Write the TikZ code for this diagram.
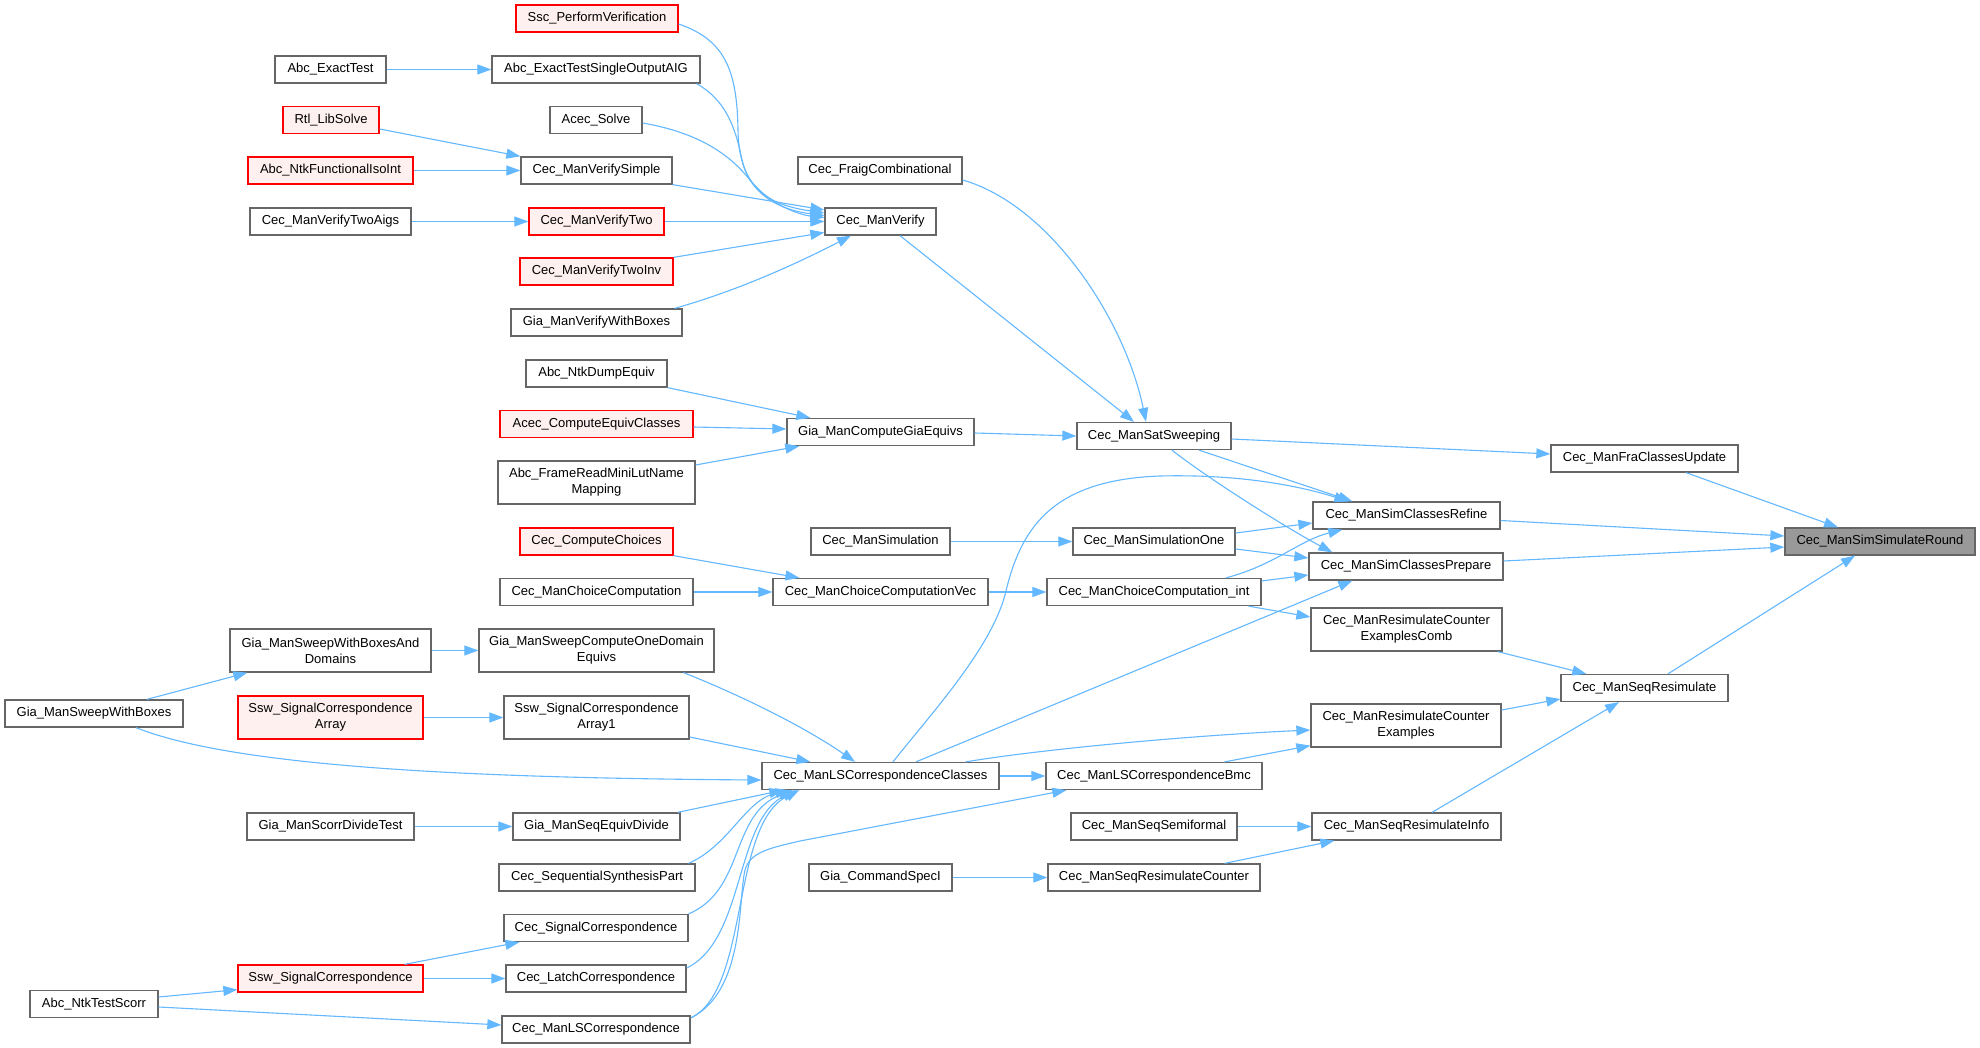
\documentclass[tikz,border=0pt]{standalone}
\usepackage{fontspec}
\setmainfont{Liberation Sans}
\usetikzlibrary{arrows.meta}
\definecolor{edgec}{HTML}{63B8FF}
\definecolor{nborder}{HTML}{666666}
\definecolor{rfill}{HTML}{FFF0F0}
\definecolor{rootfill}{HTML}{999999}
\begin{document}
\begin{tikzpicture}[x=1pt,y=-1pt,
  nd/.style={draw=nborder, line width=1.3pt, fill=white, minimum height=27pt, inner xsep=1pt, inner ysep=0pt, font=\fontsize{13}{16}\selectfont, text=black},
  tw/.style={nd, minimum height=43pt, align=center},
  rd/.style={draw=red, fill=rfill},
  root/.style={fill=rootfill},
  ed/.style={draw=edgec, line width=1.1pt, -{Triangle[length=14pt,width=10pt]}}]
\useasboundingbox[fill=white] (0,0) rectangle (1980,1048);

% column 2 (x=330.5)
\node[nd, minimum width=111pt] (AET) at (330.5,69.5) {Abc\_ExactTest};
\node[nd, rd, minimum width=96pt] (RLS) at (331,120) {Rtl\_LibSolve};
\node[nd, rd, minimum width=165pt] (ANFI) at (330.5,170.5) {Abc\_NtkFunctionalIsoInt};
\node[nd, minimum width=161pt] (CMVTA) at (330.5,221.5) {Cec\_ManVerifyTwoAigs};
\node[tw, minimum width=201pt] (GMSWBAD) at (330.5,650.5) {Gia\_ManSweepWithBoxesAnd\\Domains};
\node[tw, rd, minimum width=185pt] (SSCA) at (330.5,717.5) {Ssw\_SignalCorrespondence\\Array};
\node[nd, minimum width=167pt] (GMSDT) at (330.5,826.5) {Gia\_ManScorrDivideTest};
\node[nd, rd, minimum width=185pt] (SSC) at (330.5,978.5) {Ssw\_SignalCorrespondence};
% column 1
\node[nd, minimum width=178pt] (GMSWB) at (94,713.5) {Gia\_ManSweepWithBoxes};
\node[nd, minimum width=128pt] (ANTS) at (94,1004) {Abc\_NtkTestScorr};
% column 3 (x=596.5)
\node[nd, rd, minimum width=162pt] (SPV) at (597,18.5) {Ssc\_PerformVerification};
\node[nd, minimum width=208pt] (AETS) at (596,69.5) {Abc\_ExactTestSingleOutputAIG};
\node[nd, minimum width=92pt] (AS) at (596,120) {Acec\_Solve};
\node[nd, minimum width=151pt] (CMVS) at (596.5,170.5) {Cec\_ManVerifySimple};
\node[nd, rd, minimum width=135pt] (CMVT) at (596.5,221.5) {Cec\_ManVerifyTwo};
\node[nd, rd, minimum width=153pt] (CMVTI) at (596.5,271.5) {Cec\_ManVerifyTwoInv};
\node[nd, minimum width=171pt] (GMVWB) at (596.5,322.5) {Gia\_ManVerifyWithBoxes};
\node[nd, minimum width=141pt] (ANDE) at (596.5,373.5) {Abc\_NtkDumpEquiv};
\node[nd, rd, minimum width=193pt] (ACEC) at (596.5,424) {Acec\_ComputeEquivClasses};
\node[tw, minimum width=197pt] (AFRM) at (596.5,482.5) {Abc\_FrameReadMiniLutName\\Mapping};
\node[nd, rd, minimum width=153pt] (CCC) at (596.5,541.5) {Cec\_ComputeChoices};
\node[nd, minimum width=193pt] (CMCC) at (596.5,592) {Cec\_ManChoiceComputation};
\node[tw, minimum width=235pt] (GMSCODE) at (596.5,650.5) {Gia\_ManSweepComputeOneDomain\\Equivs};
\node[tw, minimum width=185pt] (SSCA1) at (596.5,717.5) {Ssw\_SignalCorrespondence\\Array1};
\node[nd, minimum width=167pt] (GMSED) at (596.5,826.5) {Gia\_ManSeqEquivDivide};
\node[nd, minimum width=196pt] (CSSP) at (597,877.5) {Cec\_SequentialSynthesisPart};
\node[nd, minimum width=184pt] (CSC) at (596,928) {Cec\_SignalCorrespondence};
\node[nd, minimum width=180pt] (CLC) at (596,978.5) {Cec\_LatchCorrespondence};
\node[nd, minimum width=188pt] (CMLSC) at (596,1029.5) {Cec\_ManLSCorrespondence};
% column 4 (x=880.5)
\node[nd, minimum width=164pt] (CFC) at (880,170.5) {Cec\_FraigCombinational};
\node[nd, minimum width=111pt] (CMV) at (880.5,221.5) {Cec\_ManVerify};
\node[nd, minimum width=187pt] (GMCGE) at (880.5,432) {Gia\_ManComputeGiaEquivs};
\node[nd, minimum width=139pt] (CMS) at (880.5,541.5) {Cec\_ManSimulation};
\node[nd, minimum width=215pt] (CMCCV) at (880.5,592) {Cec\_ManChoiceComputationVec};
\node[nd, minimum width=237pt] (CMLSCC) at (880.5,776) {Cec\_ManLSCorrespondenceClasses};
\node[nd, minimum width=143pt] (GCSI) at (880.5,877.5) {Gia\_CommandSpecI};
% column 5 (x=1154)
\node[nd, minimum width=154pt] (CMSS) at (1154,436) {Cec\_ManSatSweeping};
\node[nd, minimum width=162pt] (CMSO) at (1154,541.5) {Cec\_ManSimulationOne};
\node[nd, minimum width=214pt] (CMCCI) at (1154,592) {Cec\_ManChoiceComputation\_int};
\node[nd, minimum width=216pt] (CMLSCB) at (1154,776) {Cec\_ManLSCorrespondenceBmc};
\node[nd, minimum width=166pt] (CMSSF) at (1154,826.5) {Cec\_ManSeqSemiformal};
\node[nd, minimum width=212pt] (CMSRC) at (1154,877.5) {Cec\_ManSeqResimulateCounter};
% column 6 (x=1406.5)
\node[nd, minimum width=187pt] (CMSCR) at (1406.5,515.5) {Cec\_ManSimClassesRefine};
\node[nd, minimum width=194pt] (CMSCP) at (1406,566.5) {Cec\_ManSimClassesPrepare};
\node[tw, minimum width=191pt] (CMRCEC) at (1406.5,629.5) {Cec\_ManResimulateCounter\\ExamplesComb};
\node[tw, minimum width=190pt] (CMRCE) at (1406,725.5) {Cec\_ManResimulateCounter\\Examples};
\node[nd, minimum width=189pt] (CMSRI) at (1406.5,826.5) {Cec\_ManSeqResimulateInfo};
% column 7
\node[nd, minimum width=187pt] (CMFCU) at (1644.5,458.5) {Cec\_ManFraClassesUpdate};
\node[nd, minimum width=167pt] (CMSR) at (1644.5,688) {Cec\_ManSeqResimulate};
% column 8
\node[nd, root, minimum width=190pt] (CMSSR) at (1880,541.5) {Cec\_ManSimSimulateRound};

% edges into Cec_ManVerify
\draw[ed] ([shift={(0,5.5)}]SPV.east) .. controls (725,40) and (737,70) .. (738,130) .. controls (739,190) and (770,205) .. ([shift={(0,-8.5)}]CMV.west);
\draw[ed] ([shift={(-4,0)}]AETS.south east) .. controls (725,100) and (735,125) .. (742,160) .. controls (750,195) and (780,210) .. ([shift={(0,-6)}]CMV.west);
\draw[ed] ([shift={(0,3)}]AS.east) .. controls (700,133) and (730,155) .. (750,180) .. controls (770,205) and (800,215) .. ([shift={(0,-4)}]CMV.west);
\draw[ed] (CMVS.south east) -- ([shift={(0,-11.5)}]CMV.west);
\draw[ed] (CMVT.east) -- (CMV.west);
\draw[ed] (CMVTI.north east) -- ([shift={(0,11)}]CMV.west);
\draw[ed] ([shift={(-8,0)}]GMVWB.north east) .. controls (740,290) and (800,262) .. ([shift={(-29.5,0)}]CMV.south);
\draw[ed] (AET.east) -- (AETS.west);
\draw[ed] ([shift={(0,9)}]RLS.east) -- (CMVS.north west);
\draw[ed] (ANFI.east) -- (CMVS.west);
\draw[ed] (CMVTA.east) -- (CMVT.west);
% into Cec_ManSatSweeping
\draw[ed] ([shift={(19.5,0)}]CMV.south) -- ([shift={(-20,0)}]CMSS.north);
\draw[ed] ([shift={(0,9.5)}]CFC.east) .. controls (1050,205) and (1125,320) .. ([shift={(-8,0)}]CMSS.north);
\draw[ed] (ANDE.south east) -- ([shift={(24,0)}]GMCGE.north west);
\draw[ed] ([shift={(0,3)}]ACEC.east) -- ([shift={(0,-3)}]GMCGE.west);
\draw[ed] ([shift={(0,-17.5)}]AFRM.east) -- ([shift={(13,0)}]GMCGE.south west);
\draw[ed] ([shift={(0,1)}]GMCGE.east) -- (CMSS.west);
% from Cec_ManSatSweeping
\draw[ed] ([shift={(0,3)}]CMSS.east) -- ([shift={(0,-4.5)}]CMFCU.west);
\draw[ed] ([shift={(45,0)}]CMSS.south) -- ([shift={(40,0)}]CMSCR.north west);
\draw[ed] ([shift={(18,0)}]CMSS.south) .. controls (1210,480) and (1290,530) .. ([shift={(24,0)}]CMSCP.north west);
% into Cec_ManSimSimulateRound
\draw[ed] ([shift={(41.5,0)}]CMFCU.south) -- ([shift={(-42,0)}]CMSSR.north);
\draw[ed] ([shift={(0,5)}]CMSCR.east) -- ([shift={(0,-5.5)}]CMSSR.west);
\draw[ed] ([shift={(0,-5.5)}]CMSCP.east) -- ([shift={(0,5.5)}]CMSSR.west);
\draw[ed] ([shift={(23.5,0)}]CMSR.north) -- ([shift={(-25,0)}]CMSSR.south);
% simulation / choice
\draw[ed] (CMS.east) -- (CMSO.west);
\draw[ed] ([shift={(0,-8.5)}]CMSO.east) -- ([shift={(0,7.5)}]CMSCR.west);
\draw[ed] ([shift={(0,7.5)}]CMSO.east) -- ([shift={(0,-8.5)}]CMSCP.west);
\draw[ed] (CCC.south east) -- ([shift={(27,0)}]CMCCV.north west);
\draw[ed] (CMCC.east) -- (CMCCV.west);
\draw[ed] (CMCCV.east) -- (CMCCI.west);
\draw[ed] ([shift={(72,0)}]CMCCI.north) .. controls (1275,565) and (1300,540) .. ([shift={(30,0)}]CMSCR.south west);
\draw[ed] ([shift={(0,-11)}]CMCCI.east) -- ([shift={(0,8.5)}]CMSCP.west);
\draw[ed] ([shift={(-13,0)}]CMCCI.south east) -- ([shift={(0,-12.5)}]CMRCEC.west);
% from Cec_ManLSCorrespondenceClasses
\draw[ed] ([shift={(12.5,0)}]CMLSCC.north) .. controls (930,715) and (990,650) .. (1005,595) .. controls (1020,530) and (1050,480) .. (1160,476) .. controls (1240,474) and (1300,486) .. ([shift={(36,0)}]CMSCR.north west);
\draw[ed] ([shift={(35.5,0)}]CMLSCC.north) -- ([shift={(44,0)}]CMSCP.south west);
\draw[ed] ([shift={(-34,0)}]CMLSCC.north east) .. controls (1050,748) and (1200,735) .. ([shift={(0,4.5)}]CMRCE.west);
\draw[ed] (CMLSCC.east) -- (CMLSCB.west);
\draw[ed] ([shift={(-38,0)}]CMLSCB.north east) -- ([shift={(0,-2)}]CMRCE.south west);
% into Cec_ManSeqResimulate
\draw[ed] ([shift={(-5,0)}]CMRCEC.south east) -- ([shift={(26,0)}]CMSR.north west);
\draw[ed] ([shift={(0,-15.5)}]CMRCE.east) -- ([shift={(0,11)}]CMSR.west);
\draw[ed] ([shift={(25.5,0)}]CMSRI.north) -- ([shift={(-25.5,0)}]CMSR.south);
\draw[ed] (CMSSF.east) -- (CMSRI.west);
\draw[ed] (GCSI.east) -- (CMSRC.west);
\draw[ed] ([shift={(-36,0)}]CMSRC.north east) -- ([shift={(23,0)}]CMSRI.south west);
% into Cec_ManLSCorrespondenceClasses
\draw[ed] ([shift={(53,0)}]GMSWB.north) -- ([shift={(18,0)}]GMSWBAD.south west);
\draw[ed] ([shift={(42,0)}]GMSWB.south) .. controls (230,765) and (450,778) .. ([shift={(0,4)}]CMLSCC.west);
\draw[ed] (GMSWBAD.east) -- (GMSCODE.west);
\draw[ed] ([shift={(-31,0)}]GMSCODE.south east) .. controls (740,695) and (805,727) .. ([shift={(-25.5,0)}]CMLSCC.north);
\draw[ed] (SSCA.east) -- (SSCA1.west);
\draw[ed] ([shift={(0,19.5)}]SSCA1.east) -- ([shift={(49,0)}]CMLSCC.north west);
\draw[ed] (GMSDT.east) -- (GMSED.west);
\draw[ed] ([shift={(-3,0)}]GMSED.north east) -- ([shift={(22,0)}]CMLSCC.south west);
\draw[ed] ([shift={(-7,0)}]CSSP.north east) .. controls (730,845) and (745,800) .. ([shift={(28,0)}]CMLSCC.south west);
\draw[ed] (CSC.north east) .. controls (745,890) and (730,815) .. ([shift={(31,0)}]CMLSCC.south west);
\draw[ed] ([shift={(0,-10.5)}]CLC.east) .. controls (745,940) and (735,820) .. ([shift={(35,0)}]CMLSCC.south west);
\draw[ed] ([shift={(0,-11.5)}]CMLSC.east) .. controls (750,990) and (730,825) .. ([shift={(38,0)}]CMLSCC.south west);
\draw[ed] ([shift={(1,-12)}]CMLSC.east) .. controls (745,990) and (738,900) .. (745,870) .. controls (750,852) and (770,848) .. (800,841) -- ([shift={(21,0)}]CMLSCB.south west);
\draw[ed] ([shift={(-19,0)}]SSC.north east) -- ([shift={(16,0)}]CSC.south west);
\draw[ed] (SSC.east) -- (CLC.west);
\draw[ed] ([shift={(0,-7)}]ANTS.east) -- ([shift={(0,-3)}]SSC.south west);
\draw[ed] ([shift={(0,3)}]ANTS.east) -- ([shift={(0,-4.5)}]CMLSC.west);
\end{tikzpicture}
\end{document}
